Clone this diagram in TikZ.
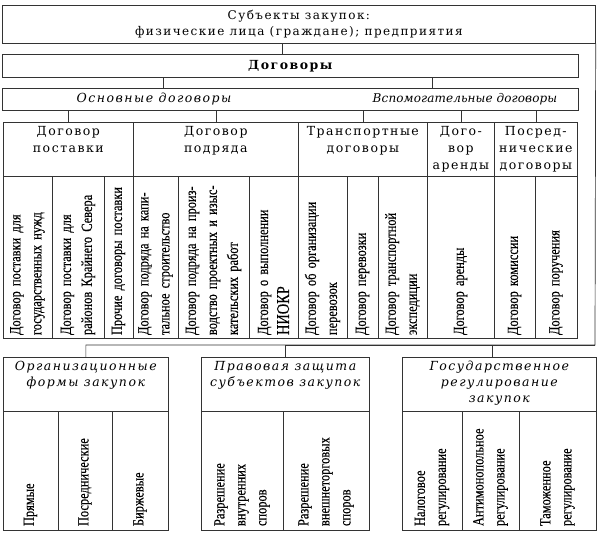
\documentclass[tikz,border=0pt]{standalone}
\usepackage{fontspec}
\setmainfont{Liberation Serif}
\newfontfamily\headfont[LetterSpace=12]{DejaVu Serif}
\newfontfamily\narrowfont[FakeStretch=0.8, FakeBold=0.3]{Liberation Serif}
\usetikzlibrary{positioning, calc}

% header text sits at the top of its cell
\newcommand{\topcell}[2]{\parbox[c][46pt][t]{#1}{\centering #2}}

\begin{document}
\begin{tikzpicture}[x=1pt, y=-1pt,
  frame/.style={draw=black!80, line width=0.7pt},
  box/.style={frame, anchor=north west, inner sep=0pt, align=center},
  hcell/.style={frame, anchor=north west, inner sep=4pt, font=\headfont\fontsize{12.5}{17}\selectfont},
  ttl/.style={hcell, font=\headfont\itshape\fontsize{12.5}{16}\selectfont},
  tcell/.style={frame, rotate=90, minimum width=162, text width=156, inner sep=0pt, minimum height=#1, align=left, font=\narrowfont\fontsize{15.5}{21}\selectfont},
  bcell/.style={tcell=#1, minimum width=119, text width=111},
  link/.style={draw=black!80, line width=0.7pt}
]
\useasboundingbox (0,0) rectangle (602,534);

% top of the scheme
\node[box, minimum width=593, minimum height=38, font=\headfont\fontsize{12}{16}\selectfont] (subj) at (2,5) {Субъекты закупок:\\физические лица (граждане); предприятия};
\node[box, minimum width=576, minimum height=23, font=\headfont\bfseries\fontsize{12.5}{16}\selectfont] (dog) at (2,54) {Договоры};
\node[box, minimum width=576, minimum height=22] (types) at (2,88) {};
\node[font=\headfont\itshape\fontsize{12.5}{16}\selectfont] (osn) at (154,99) {Основные договоры};
\node[font=\headfont\itshape\fontsize{12}{16}\selectfont\addfontfeatures{LetterSpace=1}] (vsp) at (465,99) {Вспомогательные договоры};

% table of contracts
\node[hcell] (post) at (3,122) {\topcell{122pt}{Договор\\поставки}};
\node[hcell] (podr) at (133,122) {\topcell{157pt}{Договор\\подряда}};
\node[hcell] (trans) at (298,122) {\topcell{121pt}{Транспортные\\договоры}};
\node[hcell] (arenda) at (427,122) {\topcell{59pt}{Дого-\\вор\\аренды}};
\node[hcell] (posr) at (494,122) {\topcell{75pt}{Посред-\\нические\\договоры}};

\node[tcell=49] (post1) at (27.5,257) {Договор поставки для\\государственных нужд};
\node[tcell=52] (post2) at (78,257) {Договор поставки для\\районов Крайнего Севера};
\node[tcell=29] (post3) at (118.5,257) {Прочие договоры поставки};
\node[tcell=45] (podr1) at (155.5,257) {Договор подряда на капи-\\тальное строительство};
\node[tcell=71] (podr2) at (213.5,257) {Договор подряда на произ-\\водство проектных и изыс-\\кательских работ};
\node[tcell=49] (podr3) at (273.5,257) {Договор о выполнении\\{\fontsize{18}{20}\selectfont НИОКР}};
\node[tcell=49] (trans1) at (322.5,257) {Договор об организации\\перевозок};
\node[tcell=31] (trans2) at (362.5,257) {Договор перевозки};
\node[tcell=49] (trans3) at (402.5,257) {Договор транспортной\\экспедиции};
\node[tcell=67] (arenda1) at (460.5,257) {Договор аренды};
\node[tcell=41] (posr1) at (514.5,257) {Договор комиссии};
\node[tcell=42] (posr2) at (556,257) {Договор поручения};

% lower groups
\node[ttl] (org) at (3,357) {\topcell{157pt}{Организационные\\формы закупок}};
\node[ttl] (prav) at (201,357) {\topcell{160pt}{Правовая защита\\субъектов закупок}};
\node[ttl] (gos) at (402,357) {\topcell{186pt}{Государственное\\регулирование\\закупок}};

\node[bcell=55] (org1) at (30.5,470.5) {Прямые};
\node[bcell=54] (org2) at (85,470.5) {Посреднические};
\node[bcell=56] (org3) at (140,470.5) {Биржевые};
\node[bcell=82] (prav1) at (242,470.5) {Разрешение\\внутренних\\споров};
\node[bcell=86] (prav2) at (326,470.5) {Разрешение\\внешнеторговых\\споров};
\node[bcell=60] (gos1) at (432,470.5) {Налоговое\\регулирование};
\node[bcell=57] (gos2) at (490.5,470.5) {Антимонопольное\\регулирование};
\node[bcell=77] (gos3) at (557.5,470.5) {Таможенное\\регулирование};

% connectors
\draw[link] ([xshift=-8]dog.north) -- ([xshift=-8]dog.north |- subj.south);
\draw[link] ([xshift=-127]dog.south) -- ([xshift=-127]types.north);
\draw[link] ([xshift=142]dog.south) -- ([xshift=142]types.north);
\foreach \c in {post, podr, trans, arenda, posr}
  \draw[link] (\c.north) -- (\c.north |- types.south);

\coordinate (bus) at (595,345);
\draw[link] (subj.south east) -- (bus) -| (org.north);
\draw[link] (bus) -| (prav.north);
\draw[link] (bus) -| ([xshift=-7]gos.north);
\end{tikzpicture}
\end{document}
